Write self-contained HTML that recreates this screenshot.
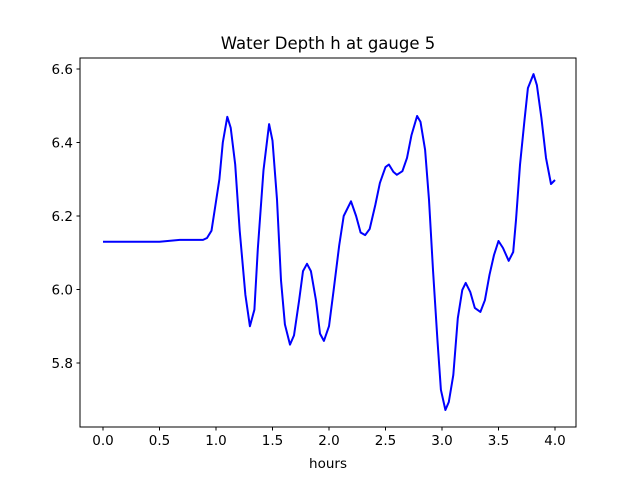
<!DOCTYPE html>
<html><head><meta charset="utf-8"><style>
body{margin:0;background:#fff}
svg{display:block;font-family:"DejaVu Sans","Liberation Sans",sans-serif}
</style></head><body>
<svg id="chart" width="640" height="480">
<rect width="640" height="480" fill="#fff"/>
<text x="328" y="49" text-anchor="middle" font-size="16.5">Water Depth h at gauge 5</text>
<g id="ticks"></g>
<path id="line" fill="none" stroke="#0000ff" stroke-width="2" stroke-linejoin="round"/>
<rect x="80" y="58" width="496" height="369" fill="none" stroke="#000" stroke-width="1"/>
<text x="328" y="468" text-anchor="middle" font-size="13.5">hours</text>
</svg>
<script>
const xs=[0,0.5,0.68,0.885,0.92,0.96,0.99,1.03,1.06,1.10,1.13,1.17,1.21,1.26,1.30,1.34,1.37,1.42,1.47,1.50,1.54,1.575,1.61,1.655,1.69,1.735,1.77,1.805,1.84,1.885,1.92,1.955,2.00,2.04,2.09,2.13,2.195,2.24,2.28,2.32,2.36,2.41,2.45,2.50,2.53,2.57,2.60,2.65,2.69,2.73,2.78,2.81,2.85,2.885,2.92,2.96,2.99,3.03,3.06,3.10,3.14,3.18,3.21,3.25,3.29,3.34,3.38,3.42,3.46,3.50,3.54,3.59,3.63,3.655,3.69,3.73,3.76,3.81,3.84,3.88,3.92,3.965,4.00];
const ys=[6.13,6.13,6.135,6.135,6.14,6.16,6.22,6.30,6.40,6.47,6.44,6.34,6.16,5.985,5.90,5.945,6.11,6.325,6.45,6.405,6.245,6.025,5.905,5.85,5.875,5.97,6.05,6.07,6.05,5.97,5.88,5.86,5.90,5.995,6.12,6.20,6.24,6.20,6.155,6.148,6.165,6.23,6.29,6.333,6.34,6.32,6.312,6.322,6.358,6.42,6.472,6.456,6.38,6.244,6.053,5.86,5.727,5.672,5.694,5.767,5.922,5.999,6.018,5.993,5.95,5.939,5.971,6.04,6.094,6.132,6.113,6.078,6.102,6.189,6.339,6.461,6.548,6.586,6.556,6.467,6.358,6.287,6.298];
const xTicks=[0,0.5,1,1.5,2,2.5,3,3.5,4];
const xTickLabels=["0.0","0.5","1.0","1.5","2.0","2.5","3.0","3.5","4.0"];
const yTicks=[5.8,6.0,6.2,6.4,6.6];
const yTickLabels=["5.8","6.0","6.2","6.4","6.6"];
const sx=v=>103+v*113;
const sy=v=>69+(6.6-v)*367.5;
const NS="http://www.w3.org/2000/svg";
const tg=document.getElementById('ticks');
function mk(tag,attrs){const e=document.createElementNS(NS,tag);for(const k in attrs)e.setAttribute(k,attrs[k]);return e;}
xTicks.forEach((t,i)=>{
  const l=mk('line',{x1:sx(t),x2:sx(t),y1:427,y2:430.5,stroke:'#000'});
  
  
  tg.appendChild(l);
  const tx=mk('text',{x:sx(t),y:445,'text-anchor':'middle','font-size':'13.5'});
  
  
  tx.textContent=xTickLabels[i];tg.appendChild(tx);
});
yTicks.forEach((t,i)=>{
  const l=mk('line',{x1:76.5,x2:80,y1:sy(t),y2:sy(t),stroke:'#000'});
  
  
  tg.appendChild(l);
  const tx=mk('text',{x:73,y:sy(t)+5,'text-anchor':'end','font-size':'13.5'});
  
  
  tx.textContent=yTickLabels[i];tg.appendChild(tx);
});
let d="";
xs.forEach((x,i)=>{d+=(i?"L":"M")+sx(x).toFixed(1)+","+sy(ys[i]).toFixed(1);});
document.getElementById('line').setAttribute('d',d);
</script>
</body></html>
